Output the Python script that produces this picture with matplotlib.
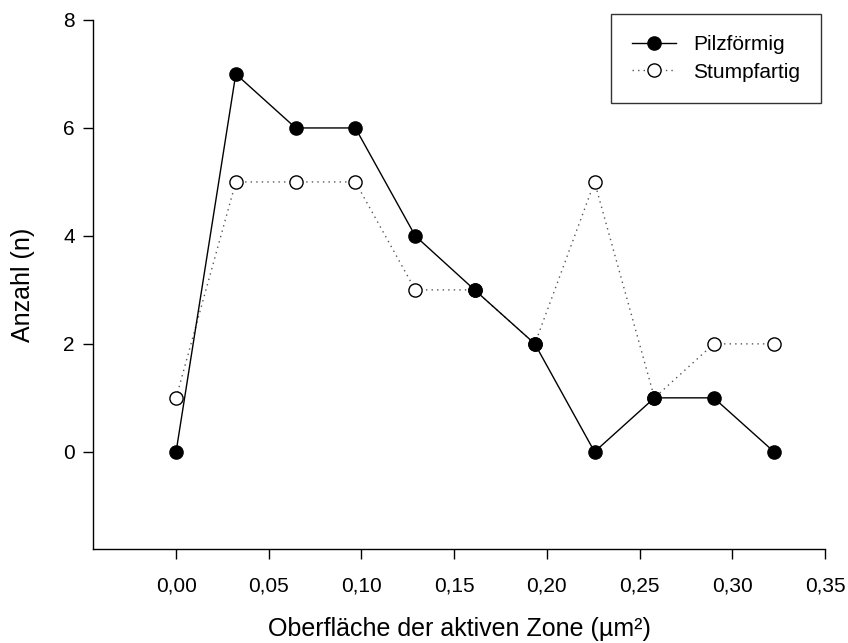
import matplotlib
matplotlib.use("Agg")
import matplotlib.pyplot as plt
from matplotlib.ticker import FuncFormatter

plt.rcParams['font.family'] = ['Liberation Sans', 'DejaVu Sans']

area = [0.000, 0.0322, 0.0645, 0.0967, 0.129, 0.161, 0.1935, 0.2257, 0.258, 0.290, 0.3225]
pilzfoermig = [0, 7, 6, 6, 4, 3, 2, 0, 1, 1, 0]
stumpfartig = [1, 5, 5, 5, 3, 3, 2, 5, 1, 2, 2]
x_ticks = [0.00, 0.05, 0.10, 0.15, 0.20, 0.25, 0.30, 0.35]
y_ticks = [0, 2, 4, 6, 8]

fig = plt.figure(figsize=(8.48, 6.43), dpi=100)
ax = fig.add_axes([0.1097, 0.1462, 0.8632, 0.8227])

ax.plot(area, stumpfartig, linestyle=(0, (1, 3)), color='#555555', linewidth=1,
        marker='o', markersize=9.5, markerfacecolor='white', markeredgecolor='black',
        markeredgewidth=1, label='Stumpfartig', zorder=2)
ax.plot(area, pilzfoermig, linestyle='-', color='black', linewidth=1,
        marker='o', markersize=9.5, markerfacecolor='black', markeredgecolor='black',
        label='Pilzförmig', zorder=3)

ax.set_xlim(-0.0448, 0.35)
ax.set_ylim(-1.8, 8)
ax.set_xticks(x_ticks)
ax.set_yticks(y_ticks)
ax.xaxis.set_major_formatter(FuncFormatter(lambda v, p: f"{v:.2f}".replace('.', ',')))
ax.yaxis.set_major_formatter(FuncFormatter(lambda v, p: f"{v:.0f}"))

for s in ['top', 'right']:
    ax.spines[s].set_visible(False)
for s in ['left', 'bottom']:
    ax.spines[s].set_linewidth(1)
ax.tick_params(axis='both', direction='out', length=7, width=1, labelsize=15, pad=6)
ax.tick_params(axis='x', pad=13)

ax.set_xlabel('Oberfläche der aktiven Zone (µm²)', fontsize=18)
ax.xaxis.set_label_coords(0.5, -0.128)
ax.set_ylabel('Anzahl (n)', fontsize=18)
ax.yaxis.set_label_coords(-0.079, 0.5)

handles, labels = ax.get_legend_handles_labels()
leg = ax.legend(handles[::-1], labels[::-1], loc='upper right', bbox_to_anchor=(0.9945, 1.011),
                frameon=True, fancybox=False, fontsize=15, borderpad=1.0,
                handlelength=2.15, handletextpad=0.8, labelspacing=0.42, borderaxespad=0)
leg.get_frame().set_edgecolor('black')
leg.get_frame().set_linewidth(1)

fig.savefig('out.png', dpi=100)
